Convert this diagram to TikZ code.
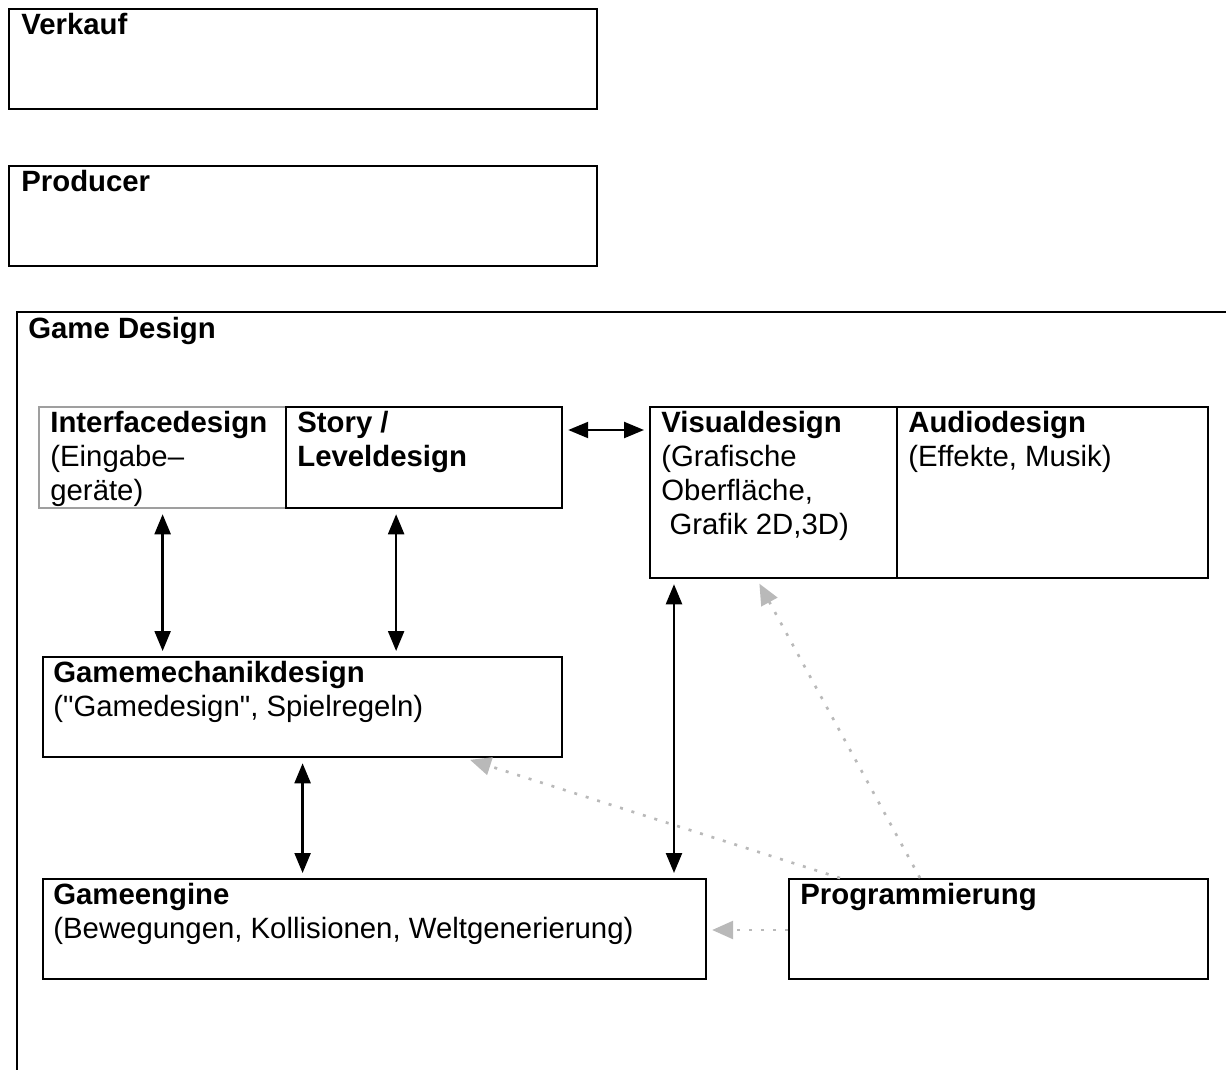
\documentclass[tikz,border=0pt]{standalone}
\usepackage{fontspec}
\setmainfont{Liberation Sans}
\usetikzlibrary{arrows.meta}

\begin{document}
\begin{tikzpicture}[x=0.02cm,y=-0.02cm,
  box/.style={draw,line width=1.3pt,inner sep=0pt,anchor=north west},
  txt/.style={anchor=north west,inner sep=0pt,align=left,font=\fontsize{16.7}{19.3}\selectfont},
  both/.style={{Triangle[length=0.4cm,width=0.32cm]}-{Triangle[length=0.4cm,width=0.32cm]},line width=1.3pt,shorten <=0.1cm,shorten >=0.1cm},
  uses/.style={-{Triangle[length=0.42cm,width=0.36cm]},gray!55,line width=1.5pt,dash pattern=on 0.06cm off 0.18cm,shorten >=0.1cm}]
  \useasboundingbox (0,0) rectangle (1226,1069);
  % outer boxes
  \node[box,minimum width=11.76cm,minimum height=2cm] (verkauf) at (8,8) {};
  \node[box,minimum width=11.76cm,minimum height=2cm] (producer) at (8,165) {};
  \node[box,minimum width=24.6cm,minimum height=15.6cm] (game) at (16,311) {};
  \node[txt] (verkauf-t) at ([shift={(13,5)}]verkauf.north west) {\textbf{Verkauf}};
  \node[txt] (producer-t) at ([shift={(13,5)}]producer.north west) {\textbf{Producer}};
  \node[txt] (game-t) at ([shift={(12,6)}]game.north west) {\textbf{Game Design}};
  % design boxes
  \node[box,draw=gray!75,minimum width=4.94cm,minimum height=2.02cm] (iface) at (38,406) {};
  \node[box,minimum width=5.52cm,minimum height=2.02cm] (story) at (285,406) {};
  \node[box,minimum width=4.94cm,minimum height=3.42cm] (visual) at (649,406) {};
  \node[box,minimum width=6.22cm,minimum height=3.42cm] (audio) at (896,406) {};
  \node[box,minimum width=10.38cm,minimum height=2cm] (mech) at (42,656) {};
  \node[box,minimum width=13.26cm,minimum height=2cm] (engine) at (42,878) {};
  \node[box,minimum width=8.38cm,minimum height=2cm] (prog) at (788,878) {};
  \node[txt] (iface-t) at ([shift={(12,5)}]iface.north west) {\textbf{Interfacedesign}\\(Eingabe--\\geräte)};
  \node[txt] (story-t) at ([shift={(12,5)}]story.north west) {\textbf{Story /}\\\textbf{Leveldesign}};
  \node[txt] (visual-t) at ([shift={(12,5)}]visual.north west) {\textbf{Visualdesign}\\(Grafische\\Oberfläche,\\\hspace*{0.278em}Grafik 2D,3D)};
  \node[txt] (audio-t) at ([shift={(12,5)}]audio.north west) {\textbf{Audiodesign}\\(Effekte, Musik)};
  \node[txt] (mech-t) at ([shift={(11,5)}]mech.north west) {\textbf{Gamemechanikdesign}\\(\textquotedbl Gamedesign\textquotedbl, Spielregeln)};
  \node[txt] (engine-t) at ([shift={(11,5)}]engine.north west) {\textbf{Gameengine}\\(Bewegungen, Kollisionen, Weltgenerierung)};
  \node[txt] (prog-t) at ([shift={(12,5)}]prog.north west) {\textbf{Programmierung}};
  % two-way links
  \draw[both] ([yshift=-0.48cm]story.north east) -- ([yshift=-0.48cm]story.north east -| visual.west);
  \draw[both] (iface.south) -- (iface.south |- mech.north);
  \draw[both] ([xshift=-0.56cm]story.south) -- ([xshift=-0.56cm]story.south |- mech.north);
  \draw[both] (mech.south) -- (mech.south |- engine.north);
  \draw[both] ([xshift=0.5cm]visual.south west) -- ([xshift=0.5cm]visual.south west |- engine.north);
  % programming links
  \draw[uses] ([xshift=2.64cm]prog.north west) -- ([xshift=2.16cm]visual.south west);
  \draw[uses] ([xshift=1.04cm]prog.north west) -- ([xshift=-1.96cm]mech.south east);
  \draw[uses] ([yshift=-1.04cm]prog.north west) -- ([yshift=-1.04cm]prog.north west -| engine.east);
\end{tikzpicture}
\end{document}
